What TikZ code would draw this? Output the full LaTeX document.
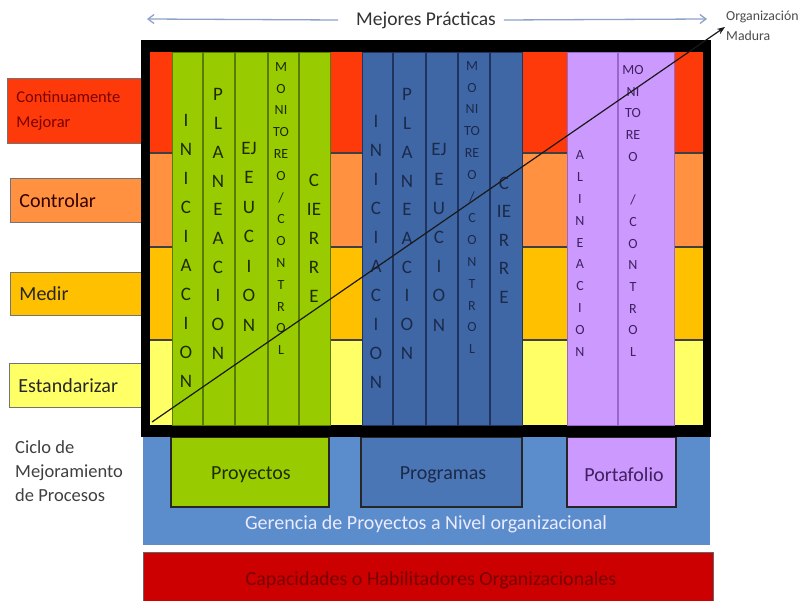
\documentclass[tikz,border=0pt]{standalone}
\usepackage{fontspec}
\setmainfont{Carlito}
\usetikzlibrary{arrows.meta}
\definecolor{rowred}{HTML}{FF3A0A}
\definecolor{roworange}{HTML}{FF9140}
\definecolor{rowgold}{HTML}{FFC000}
\definecolor{rowyellow}{HTML}{FFFF66}
\definecolor{colgreen}{HTML}{99CC00}
\definecolor{colgreenline}{HTML}{5A7A00}
\definecolor{colgreentext}{HTML}{1E2B00}
\definecolor{colblue}{HTML}{3F67A6}
\definecolor{progblue}{HTML}{4A76B5}
\definecolor{colblueline}{HTML}{1F3560}
\definecolor{colbluetext}{HTML}{1B2A4A}
\definecolor{colpurple}{HTML}{CC99FF}
\definecolor{colpurpleline}{HTML}{9966CC}
\definecolor{colpurpletext}{HTML}{40205F}
\definecolor{bandblue}{HTML}{5B8CCB}
\definecolor{bandred}{HTML}{CC0000}
\definecolor{bandredtext}{HTML}{7A0000}
\definecolor{toparrow}{HTML}{8EA2C8}
\definecolor{graytext}{HTML}{333333}
\begin{document}
\begin{tikzpicture}[x=1pt,y=-1pt,
  lblbox/.style={draw=black!55, line width=0.8pt, anchor=north west, align=left,
     inner xsep=9pt, text width=118pt, font=\fontsize{20}{24}\selectfont},
  bigcol/.style={align=center, inner sep=0pt, font=\fontsize{19}{29}\selectfont},
  smallcol/.style={align=center, inner sep=0pt, font=\fontsize{14}{21.8}\selectfont},
  levelbox/.style={draw=black!85, line width=1.6pt, font=\fontsize{20}{24}\selectfont},
  rowsep/.style={draw=black!75, line width=1.6pt},
]
\useasboundingbox (0,0) rectangle (803,601);
\fill[white] (0,0) rectangle (803,601);

% left labels
\node[lblbox, fill=rowred, text=bandredtext, minimum height=65pt,
  font=\fontsize{16.5}{25}\selectfont] (lcm) at (7,78) {Continuamente\\Mejorar};
\node[lblbox, fill=roworange, text=black!80!red, minimum height=44pt] (lctl) at (10,178) {Controlar};
\node[lblbox, fill=rowgold, text=black!85, minimum height=43pt] (lmed) at (10,272) {Medir};
\node[lblbox, fill=rowyellow, text=black!85, minimum height=44pt] (lest) at (9,363) {Estandarizar};
\node[anchor=north west, align=left, inner sep=0pt, text=black!75,
  font=\fontsize{18.5}{24}\selectfont] (ciclo) at (15,440) {Ciclo de\\Mejoramiento\\de Procesos};

% bottom bands
\fill[bandblue] (143,430) rectangle (710,545);
\node[text=white!92!blue, font=\fontsize{20}{24}\selectfont] (ger) at (426,524)
  {Gerencia de Proyectos a Nivel organizacional};
\draw[fill=bandred, draw=black!60, line width=0.8pt] (143,552) rectangle (713,615);
\node[text=bandredtext, font=\fontsize{20}{24}\selectfont] (cap) at (431,580)
  {Capacidades o Habilitadores Organizacionales};

\node[levelbox, fill=colgreen, minimum width=158pt, minimum height=70pt] (proy) at (250,472) {};
\node[levelbox, fill=progblue, minimum width=161pt, minimum height=70pt] (prog) at (441.5,472) {};
\node[levelbox, fill=colpurple, minimum width=109pt, minimum height=70pt] (port) at (621.5,472) {};
\node[text=colgreentext, font=\fontsize{20}{24}\selectfont] (proyt) at (251,475) {Proyectos};
\node[text=colbluetext, font=\fontsize{20}{24}\selectfont] (progt) at (443,475) {Programas};
\node[text=colpurpletext, font=\fontsize{20}{24}\selectfont] (portt) at (624,475) {Portafolio};

% black frame
\fill[black] (141,40) rectangle (711,437);
% rows
\fill[rowred] (150,52) rectangle (703,153);
\fill[roworange] (150,153) rectangle (703,247);
\fill[rowgold] (150,247) rectangle (703,340);
\fill[rowyellow] (150,340) rectangle (703,425);
\draw[rowsep] (150,153) -- (703,153);
\draw[rowsep] (150,247) -- (703,247);
\draw[rowsep] (150,340) -- (703,340);

% column panels
\draw[fill=colgreen, draw=colgreenline, line width=0.8pt] (172,52) rectangle (330,425);
\draw[fill=colblue, draw=colblueline, line width=0.8pt] (362,52) rectangle (522,425);
\draw[fill=colpurple, draw=colpurpleline, line width=0.8pt] (567,52) rectangle (674,425);
\foreach \x in {203,235,268,299} \draw[colgreenline, line width=1.3pt] (\x,52) -- (\x,425);
\foreach \x in {393,426,458,490} \draw[colblueline, line width=1.3pt] (\x,52) -- (\x,425);
\draw[colpurpleline, line width=2pt] (618,52) -- (618,425);

% green column texts
\node[bigcol, text=colgreentext] (g1) at (186,251) {I\\N\\I\\C\\I\\A\\C\\I\\O\\N};
\node[bigcol, text=colgreentext, font=\fontsize{19}{28.7}\selectfont] (g2) at (218,224) {P\\L\\A\\N\\E\\A\\C\\I\\O\\N};
\node[bigcol, text=colgreentext, font=\fontsize{19}{29.5}\selectfont] (g3) at (249,236.5) {EJ\\E\\U\\C\\I\\O\\N};
\node[smallcol, text=colgreentext] (g4) at (281,208.5) {M\\O\\NI\\TO\\RE\\O\\/\\C\\O\\N\\T\\R\\O\\L};
\node[bigcol, text=colgreentext] (g5) at (314,238.5) {C\\IE\\R\\R\\E};

% blue column texts
\node[bigcol, text=colbluetext] (b1) at (376,251.5) {I\\N\\I\\C\\I\\A\\C\\I\\O\\N};
\node[bigcol, text=colbluetext, font=\fontsize{19}{28.7}\selectfont] (b2) at (407,224) {P\\L\\A\\N\\E\\A\\C\\I\\O\\N};
\node[bigcol, text=colbluetext, font=\fontsize{19}{29.2}\selectfont] (b3) at (439,237.5) {EJ\\E\\U\\C\\I\\O\\N};
\node[smallcol, text=colbluetext] (b4) at (472,207.5) {M\\O\\NI\\TO\\RE\\O\\/\\C\\O\\N\\T\\R\\O\\L};
\node[bigcol, text=colbluetext, font=\fontsize{19}{28.5}\selectfont] (b5) at (504,240) {C\\IE\\R\\R\\E};

% purple column texts
\node[smallcol, text=colpurpletext, font=\fontsize{14}{21.9}\selectfont] (p1) at (580,253.5) {A\\L\\I\\N\\E\\A\\C\\I\\O\\N};
\node[smallcol, text=colpurpletext, font=\fontsize{14}{21.7}\selectfont] (p2) at (633,211) {MO\\NI\\TO\\RE\\O\\\mbox{}\\/\\C\\O\\N\\T\\R\\O\\L};

% top header
\node[text=graytext, font=\fontsize{19.5}{24}\selectfont, inner sep=0pt] (mp) at (426,20) {Mejores Prácticas};
\coordinate (tl) at (147,19);
\coordinate (tr) at (707,19);
\draw[toparrow, line width=1.3pt, -{Straight Barb[length=6pt,width=9pt]}] ([xshift=-18pt]mp.west) -- (tl);
\draw[toparrow, line width=1.3pt, -{Straight Barb[length=6pt,width=9pt]}] ([xshift=8pt]mp.east) -- (tr);

% maturity diagonal
\node[anchor=north west, align=left, inner sep=0pt, text=black!70,
  font=\fontsize{13.8}{20}\selectfont] (org) at (726,11) {Organización\\Madura};
\coordinate (dstart) at (152,422);
\coordinate (dend) at (725,27);
\draw[black!90, line width=1.2pt, -{Stealth[length=8pt,width=6pt]}] (dstart) -- (dend);
\end{tikzpicture}
\end{document}
